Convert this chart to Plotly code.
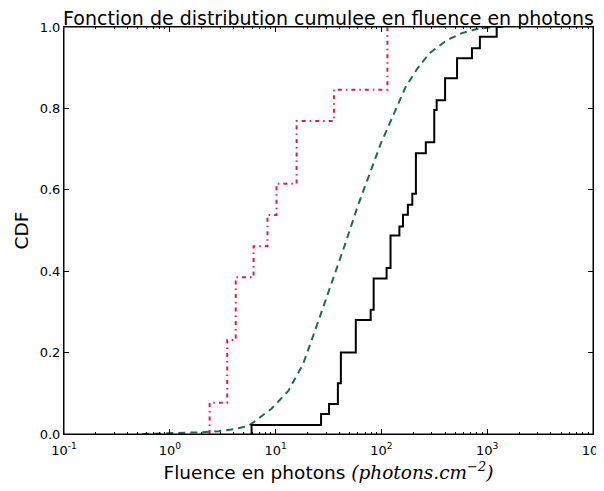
import plotly.graph_objects as go

# --- data ---
# black solid step CDF: x positions of the rises and the CDF level after each rise
black_x = [5.93, 5.93, 26.9, 32.0, 38.8, 41.4, 57.3, 79.2, 84.5, 112, 122, 148, 160, 178,
           196, 212, 263, 316, 333, 400, 519, 718, 853, 1230, 1400]
black_cdf = [0.0, 0.022, 0.049, 0.074, 0.125, 0.20, 0.28, 0.305, 0.382, 0.408, 0.488, 0.510,
             0.539, 0.563, 0.590, 0.690, 0.717, 0.796, 0.820, 0.874, 0.923, 0.948, 0.976, 1.0, 1.0]

# red dash-dot step CDF
red_x = [2.38, 2.38, 3.49, 4.20, 6.19, 8.38, 10.2, 15.8, 35.6, 114]
red_cdf = [0.0, 0.077, 0.231, 0.385, 0.4615, 0.538, 0.615, 0.769, 0.846, 1.0]

# green dashed CDF
green_x = [0.55, 1.10, 1.89, 2.91, 4.02, 5.56, 7.36, 9.14, 13.2, 18.2, 23.6, 33.4, 45.2,
           59.8, 79.2, 98.2, 133, 169, 219, 283, 418, 578, 798, 1104]
green_cdf = [0.0, 0.002, 0.004, 0.007, 0.012, 0.02, 0.045, 0.062, 0.106, 0.172, 0.254, 0.365,
             0.465, 0.56, 0.645, 0.712, 0.79, 0.852, 0.898, 0.935, 0.968, 0.985, 0.995, 1.0]

x_tickvals = [0.1, 1, 10, 100, 1000, 10000]
x_ticktext = ["10<sup>-1</sup>", "10<sup>0</sup>", "10<sup>1</sup>", "10<sup>2</sup>",
              "10<sup>3</sup>", "10<sup>4</sup>"]
y_tickvals = [0.0, 0.2, 0.4, 0.6, 0.8, 1.0]
y_ticktext = ["0.0", "0.2", "0.4", "0.6", "0.8", "1.0"]

title_text = "Fonction de distribution cumulee en fluence en photons"
x_label = ("Fluence en photons <span style='font-family:DejaVu Serif;font-style:italic'>"
           "(photons.cm<sup>−2</sup>)</span>")
y_label = "CDF"

fig = go.Figure()
fig.add_trace(go.Scatter(x=green_x, y=green_cdf, mode="lines",
                         line=dict(color="#1f6b4f", width=2, dash="7px,5px"),
                         showlegend=False))
fig.add_trace(go.Scatter(x=black_x, y=black_cdf, mode="lines", line_shape="hv",
                         line=dict(color="black", width=2), showlegend=False))
fig.add_trace(go.Scatter(x=red_x, y=red_cdf, mode="lines", line_shape="hv",
                         line=dict(color="#e8174a", width=2, dash="4px,4px,1.5px,4px"),
                         showlegend=False))

font_main = "DejaVu Sans, Arial, sans-serif"
# the page body has an 8px margin, so the figure is sized to fit inside the 604x491 window
fig.update_layout(
    template="none",
    width=588, height=475,
    margin=dict(l=56, r=3, t=19, b=49),
    paper_bgcolor="white", plot_bgcolor="white",
    font=dict(family=font_main, color="black", size=13),
    title=dict(text=title_text, x=0.5, xanchor="center", xref="paper",
               y=0.9915, yref="container", yanchor="top", pad=dict(t=0, b=0),
               font=dict(size=19, color="black")),
    # axes frame (box around the plotting area)
    shapes=[dict(type="rect", xref="paper", yref="paper", x0=0, x1=1, y0=0, y1=1,
                 line=dict(color="black", width=1), fillcolor="rgba(0,0,0,0)",
                 layer="above")],
)
fig.update_xaxes(type="log", range=[-1, 4.0002], tickvals=x_tickvals, ticktext=x_ticktext,
                 automargin=False, ticklabeloverflow="allow",
                 ticks="inside", ticklen=5, tickcolor="black", showgrid=False, zeroline=False,
                 showline=True, linecolor="black", linewidth=1, mirror="allticks",
                 minor=dict(ticks="inside", ticklen=2, tickcolor="black", showgrid=False,
                            dtick="D1"),
                 tickfont=dict(size=13), ticklabelstandoff=4,
                 title=dict(text=x_label, font=dict(size=18.5), standoff=12))
fig.update_yaxes(range=[0, 1], tickvals=y_tickvals, ticktext=y_ticktext,
                 automargin=False,
                 ticks="inside", ticklen=5, tickcolor="black", showgrid=False, zeroline=False,
                 showline=True, linecolor="black", linewidth=1, mirror="allticks",
                 tickfont=dict(size=13),
                 title=dict(text=y_label, font=dict(size=18.5), standoff=6))

fig.write_html("out.html")
